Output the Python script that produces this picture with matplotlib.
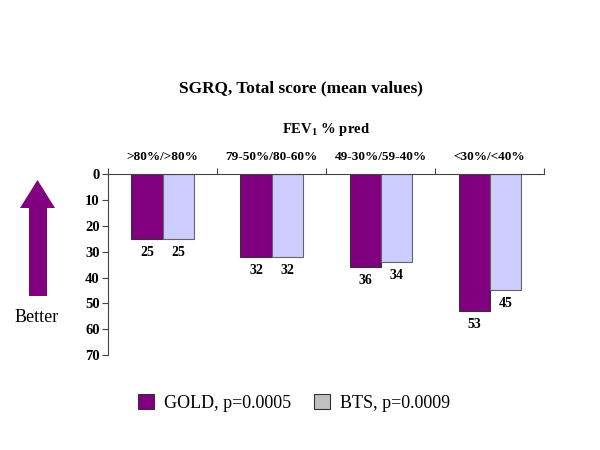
import matplotlib
matplotlib.use("Agg")
import matplotlib.pyplot as plt
import numpy as np
from matplotlib.patches import Patch, Polygon

plt.rcParams["font.family"] = ["Liberation Serif", "DejaVu Serif"]
plt.rcParams["mathtext.fontset"] = "custom"
plt.rcParams["mathtext.rm"] = "Liberation Serif:bold"
plt.rcParams["mathtext.bf"] = "Liberation Serif:bold"

categories = [">80%/>80%", "79-50%/80-60%", "49-30%/59-40%", "<30%/<40%"]
gold = [25, 32, 36, 53]
bts = [25, 32, 34, 45]
series_labels = ["GOLD, p=0.0005", "BTS, p=0.0009"]

GOLD_C = "#800080"
BTS_C = "#CCCCFF"

fig = plt.figure(figsize=(6, 4.5), dpi=100)
ax = fig.add_axes([0.18, 0.211, 0.727, 0.402])

x = np.arange(len(categories))
w = 0.285
ax.bar(x - w / 2, gold, w, color=GOLD_C, edgecolor="#333333", lw=0.8)
ax.bar(x + w / 2, bts, w, color=BTS_C, edgecolor="#666666", lw=0.8)

for xi, g, b in zip(x, gold, bts):
    for off, v in [(-w / 2, g), (w / 2, b)]:
        ax.annotate(f"{v}", (xi + off, v), xytext=(0, -5),
                    textcoords="offset points", ha="center", va="top",
                    fontsize=10, fontweight="bold")

ax.set_ylim(70, 0)
ax.set_yticks(range(0, 71, 10))
ax.set_xlim(-0.5, len(categories) - 0.5)
ax.xaxis.tick_top()
ax.set_xticks(np.arange(-0.5, len(categories), 1.0))
ax.set_xticklabels([])
ax.tick_params(axis="x", direction="out", length=4, width=0.8, color="#444444")
ax.tick_params(axis="y", direction="out", length=4, width=0.8, color="#444444",
               labelsize=10.5, pad=2)
for lab in ax.get_yticklabels():
    lab.set_fontweight("bold")
for s in ["bottom", "right"]:
    ax.spines[s].set_visible(False)
for s in ["top", "left"]:
    ax.spines[s].set_color("#444444")
    ax.spines[s].set_linewidth(0.8)

for xi, c in zip(x, categories):
    ax.text(xi, 1.06, c, transform=ax.get_xaxis_transform(), ha="center",
            va="bottom", fontsize=9.5, fontweight="bold")

ax.text(0.5, 1.20, r"FEV$_\mathbf{1}$ % pred", transform=ax.transAxes,
        ha="center", va="bottom", fontsize=10.5, fontweight="bold")
fig.text(0.502, 1 - 88 / 450, "SGRQ, Total score (mean values)", ha="center",
         va="center", fontsize=12.4, fontweight="bold")

# "Better" arrow on the left
pts = [(20, 208), (37.5, 180), (55, 208), (47, 208), (47, 296), (29, 296), (29, 208)]
arrow = Polygon([(px / 600, 1 - py / 450) for px, py in pts], closed=True,
                transform=fig.transFigure, facecolor=GOLD_C, edgecolor="none")
fig.patches.append(arrow)
fig.text(37 / 600, 1 - 317 / 450, "Better", ha="center", va="center", fontsize=13)

handles = [Patch(facecolor=GOLD_C, edgecolor="#333333", lw=0.8),
           Patch(facecolor="#C0C0C0", edgecolor="#333333", lw=0.8)]
fig.legend(handles, series_labels, loc="center", bbox_to_anchor=(0.49, 1 - 403 / 450),
           ncol=2, frameon=False, fontsize=13, handlelength=0.85, handleheight=0.9,
           handletextpad=0.55, columnspacing=1.3)

fig.savefig("out.png", dpi=100)
